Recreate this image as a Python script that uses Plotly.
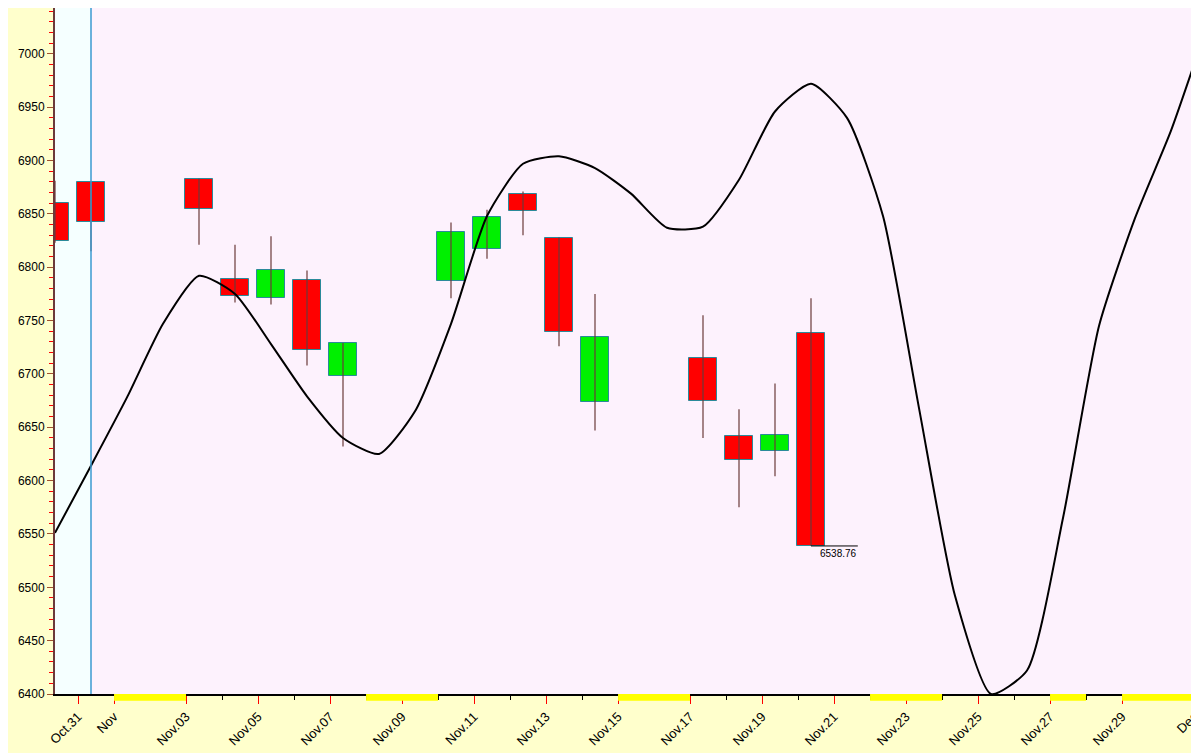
import plotly.graph_objects as go

# Day index: 0 = Oct 31; marks sit at day + 0.36
cdl_day = [-1, 0, 3, 4, 5, 6, 7, 10, 11, 12, 13, 14, 17, 18, 19, 20]
cdl_open = [6860, 6880, 6883, 6789, 6771, 6788, 6698, 6787, 6817, 6869, 6827, 6674, 6715, 6642, 6628, 6738]
cdl_close = [6825, 6842, 6855, 6773, 6797, 6722, 6729, 6833, 6847, 6853, 6739, 6735, 6675, 6619, 6643, 6538.76]
cdl_high = [6881, 6880, 6883, 6821, 6829, 6797, 6729, 6842, 6854, 6871, 6828, 6775, 6755, 6667, 6691, 6771]
cdl_low = [6823, 6815, 6821, 6767, 6765, 6708, 6632, 6771, 6808, 6830, 6726, 6647, 6640, 6575, 6604, 6538.76]

line_day = list(range(-1, 32))
line_val = [6551, 6614, 6678, 6747, 6792, 6775, 6728, 6679, 6640, 6625, 6665, 6747, 6848, 6897,
            6904, 6893, 6869, 6837, 6838, 6882, 6946, 6972, 6940, 6848, 6668, 6492, 6400, 6422,
            6565, 6745, 6846, 6928, 7026]

tick_days = [0, 1, 3, 5, 7, 9, 11, 13, 15, 17, 19, 21, 23, 25, 27, 29, 31]
tick_text = ["Oct.31", "Nov", "Nov.03", "Nov.05", "Nov.07", "Nov.09", "Nov.11", "Nov.13", "Nov.15",
             "Nov.17", "Nov.19", "Nov.21", "Nov.23", "Nov.25", "Nov.27", "Nov.29", "Dec"]
holiday_spans = [(1, 3), (8, 10), (15, 17), (22, 24), (27, 28), (29, 31)]
last_label = "6538.76"

OFF = 0.36
fig = go.Figure()
xs = [d + OFF for d in cdl_day]
up = [c >= o for o, c in zip(cdl_open, cdl_close)]

# wicks
wx, wy = [], []
for x, h, l in zip(xs, cdl_high, cdl_low):
    wx += [x, x, None]; wy += [l, h, None]
fig.add_trace(go.Scatter(x=wx, y=wy, mode="lines", line=dict(color="#6b3a3a", width=1.2),
                         cliponaxis=False, hoverinfo="skip", showlegend=False))
# bodies
fig.add_trace(go.Bar(x=xs, base=[min(o, c) for o, c in zip(cdl_open, cdl_close)],
                     y=[abs(c - o) for o, c in zip(cdl_open, cdl_close)],
                     width=0.8, marker=dict(color=["#00f000" if u else "#ff0000" for u in up],
                                            line=dict(color="#2a8a9a", width=1)),
                     cliponaxis=False, showlegend=False))
# line
fig.add_trace(go.Scatter(x=[d + OFF for d in line_day], y=line_val, mode="lines",
                         line=dict(color="black", width=2, shape="spline", smoothing=0.6),
                         cliponaxis=False, showlegend=False))
# last close marker
fig.add_trace(go.Scatter(x=[xs[-1], xs[-1] + 1.3], y=[cdl_close[-1]] * 2, mode="lines",
                         line=dict(color="black", width=1), showlegend=False))
fig.add_annotation(x=xs[-1] + 0.2, y=cdl_close[-1], text=last_label, showarrow=False,
                   xanchor="left", yanchor="top", font=dict(size=10, color="black"))

shapes = [
    dict(type="rect", xref="x", yref="paper", x0=-0.64, x1=OFF, y0=0, y1=1,
         fillcolor="#f5ffff", line=dict(width=0), layer="below"),
    dict(type="line", xref="x", yref="paper", x0=OFF, x1=OFF, y0=0, y1=1,
         line=dict(color="#3a9ad0", width=1.5)),
]
for a, b in holiday_spans:
    shapes.append(dict(type="rect", xref="x", yref="paper", x0=a, x1=b, y0=-0.01, y1=0,
                       fillcolor="#ffff00", line=dict(width=0)))
fig.update_layout(shapes=shapes)

fig.update_layout(
    width=1199, height=753, margin=dict(l=47, r=0, t=0, b=67),
    paper_bgcolor="#ffffcc", plot_bgcolor="#fdf2fd", bargap=0,
    font=dict(family="Liberation Sans, Arial", size=13, color="black"),
    xaxis=dict(range=[-0.64, 31.36], tickvals=tick_days, ticktext=tick_text, tickangle=-45,
               ticks="outside", ticklen=8, tickcolor="red", showgrid=False, zeroline=False,
               showline=True, linecolor="black", linewidth=2,
               minor=dict(dtick=1, tick0=0, ticks="outside", ticklen=4, tickcolor="black")),
    yaxis=dict(range=[6400, 7043], dtick=50, tick0=6400, ticks="outside", ticklen=6,
               tickcolor="#a0522d", showgrid=False, zeroline=False, showline=True,
               linecolor="#6b3a3a", linewidth=2, tickfont=dict(size=12),
               minor=dict(dtick=10, ticks="outside", ticklen=4, tickcolor="red")),
)
fig.write_html("out.html")
